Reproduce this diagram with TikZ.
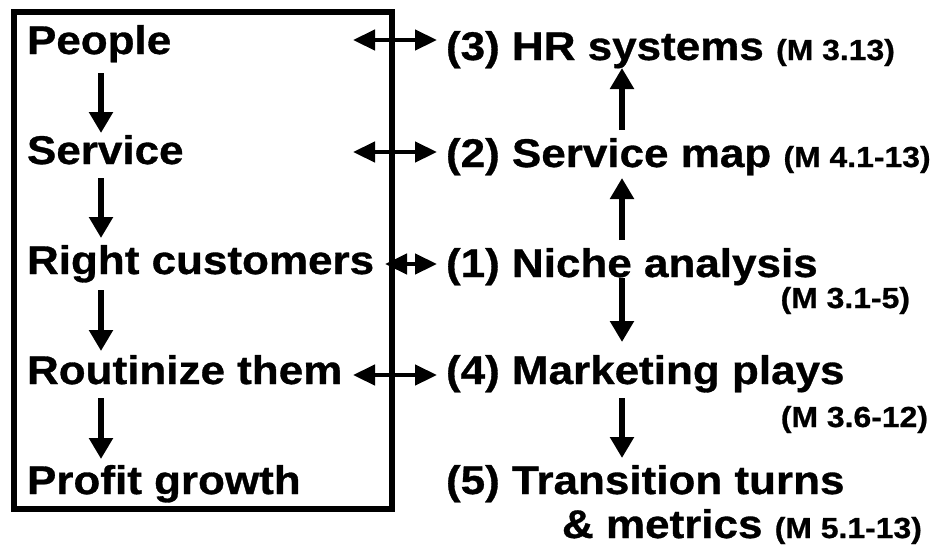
\documentclass[tikz,border=0pt]{standalone}
\usepackage{fontspec}
\setmainfont{Liberation Sans}[FakeStretch=1.1, BoldFeatures={FakeBold=0.8}]
\usetikzlibrary{arrows.meta,calc}
\newcommand{\bigtxt}{\fontsize{40}{42}\selectfont\bfseries}
\newcommand{\smalltxt}{\fontsize{29}{31}\selectfont\bfseries}
\tikzset{
  lbl/.style={inner sep=0pt, outer sep=0pt, anchor=base west, text height=27pt, text depth=8pt, font=\bigtxt},
  sml/.style={inner sep=0pt, outer sep=0pt, anchor=base east, font=\smalltxt},
  arr/.style={line width=5.5pt, -{Triangle[length=21pt,width=23pt]}},
  dbl/.style={line width=4.5pt, {Triangle[length=22pt,width=20pt]}-{Triangle[length=22pt,width=20pt]}},
  frame/.style={line width=6pt}
}
\begin{document}
\begin{tikzpicture}[x=1pt,y=-1pt]
\useasboundingbox (0,0) rectangle (950,550);
\fill[white] (0,0) rectangle (950,550);
% frame
\draw[frame] (13.5,12) rectangle (392,509);
% left column
\node[lbl] (people) at (27,54) {People};
\node[lbl] (service) at (27,164) {Service};
\node[lbl] (right) at (27,274) {Right customers};
\node[lbl] (rout) at (27,384) {Routinize them};
\node[lbl] (profit) at (27,494) {Profit growth};
% right column
\node[lbl] (hr) at (446,60) {(3) HR systems {\smalltxt(M 3.13)}};
\node[lbl] (smap) at (446,167) {(2) Service map {\smalltxt(M 4.1-13)}};
\node[lbl] (niche) at (446,277) {(1) Niche analysis};
\node[sml] (nicheM) at (910,308) {(M 3.1-5)};
\node[lbl] (mkt) at (446,384) {(4) Marketing plays};
\node[sml] (mktM) at (928,427) {(M 3.6-12)};
\node[lbl] (trans) at (446,494) {(5) Transition turns};
\node[lbl] (metr) at (562,538) {\& metrics {\smalltxt(M 5.1-13)}};
% columns of arrows
\coordinate (cl) at (101,0);
\coordinate (cr) at (622,0);
\draw[arr, shorten <=11pt, shorten >=4pt] (people.south -| cl) -- (service.north -| cl);
\draw[arr, shorten <=6pt, shorten >=9pt] (service.south -| cl) -- (right.north -| cl);
\draw[arr, shorten <=8pt, shorten >=6pt] (right.south -| cl) -- (rout.north -| cl);
\draw[arr, shorten <=6pt, shorten >=8pt] (rout.south -| cl) -- (profit.north -| cl);
\draw[arr, shorten <=10pt, shorten >=0pt] (smap.north -| cr) -- (hr.south -| cr);
\draw[arr, shorten <=10pt, shorten >=3pt] (niche.north -| cr) -- (smap.south -| cr);
\draw[arr, shorten <=-7pt, shorten >=15pt] (niche.south -| cr) -- (mkt.north -| cr);
\draw[arr, shorten <=6pt, shorten >=9pt] (mkt.south -| cr) -- (trans.north -| cr);
% double arrows
\coordinate (d1l) at (353,40);  \coordinate (d1r) at (437,40);
\coordinate (d2l) at (353,152); \coordinate (d2r) at (437,152);
\coordinate (d3l) at (385,264); \coordinate (d3r) at (437,264);
\coordinate (d4l) at (353,375); \coordinate (d4r) at (437,375);
\draw[dbl] (d1l) -- (d1r);
\draw[dbl] (d2l) -- (d2r);
\draw[dbl] (d3l) -- (d3r);
\draw[dbl] (d4l) -- (d4r);
\end{tikzpicture}
\end{document}
